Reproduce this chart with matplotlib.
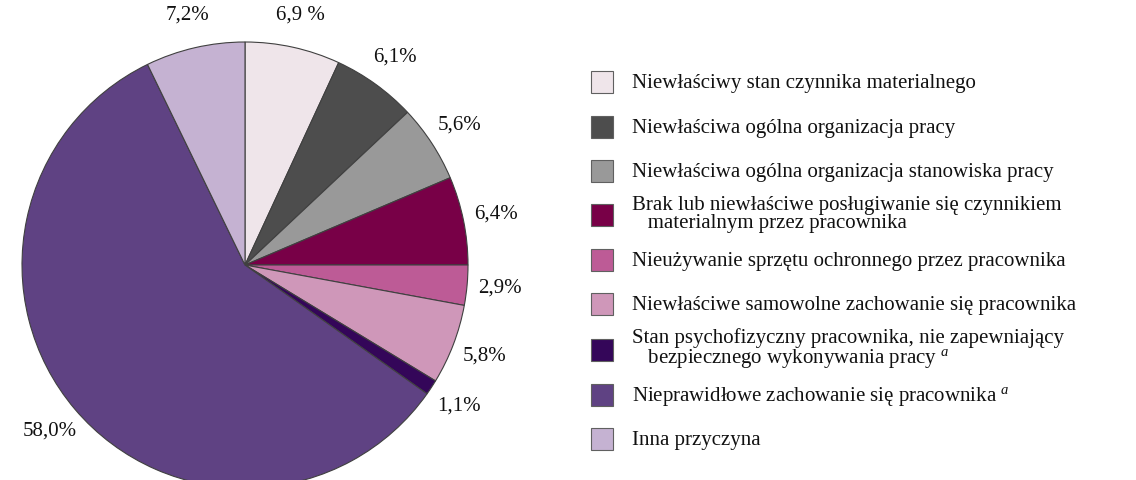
import matplotlib
matplotlib.use('Agg')
import matplotlib.pyplot as plt
from matplotlib.patches import Rectangle
from matplotlib.legend_handler import HandlerPatch

plt.rcParams['font.family'] = ['Liberation Serif', 'DejaVu Serif']
plt.rcParams['mathtext.fontset'] = 'custom'
plt.rcParams['mathtext.rm'] = 'Liberation Serif'
plt.rcParams['mathtext.it'] = 'Liberation Serif:italic'

# dane
categories = [
    'Niewłaściwy stan czynnika materialnego',
    'Niewłaściwa ogólna organizacja pracy',
    'Niewłaściwa ogólna organizacja stanowiska pracy',
    'Brak lub niewłaściwe posługiwanie się czynnikiem\n   materialnym przez pracownika',
    'Nieużywanie sprzętu ochronnego przez pracownika',
    'Niewłaściwe samowolne zachowanie się pracownika',
    'Stan psychofizyczny pracownika, nie zapewniający\n   bezpiecznego wykonywania pracy $^{\\mathit{a}}$',
    'Nieprawidłowe zachowanie się pracownika $^{\\mathit{a}}$',
    'Inna przyczyna',
]
values = [6.9, 6.1, 5.6, 6.4, 2.9, 5.8, 1.1, 58.0, 7.2]
value_labels = ['6,9 %', '6,1%', '5,6%', '6,4%', '2,9%', '5,8%', '1,1%', '58,0%', '7,2%']
colors = ['#efe5ea', '#4d4d4d', '#999999', '#780047', '#bd5b96',
          '#cf97b9', '#340659', '#5f4283', '#c5b2d2']

W, H = 1136, 480
fs = 15
fig = plt.figure(figsize=(W / 100, H / 100), dpi=100)
ax = fig.add_axes([0, 0, 1, 1])

wedges, texts = ax.pie(
    values,
    labels=value_labels,
    colors=colors,
    startangle=90,
    counterclock=False,
    center=(245, 215),
    radius=223,
    labeldistance=1.15,
    wedgeprops=dict(edgecolor='#404040', linewidth=0.8),
    textprops=dict(fontsize=fs, color='#111111'),
)
for t in texts:
    t.set_ha('center')
    t.set_va('center')

ax.set_xlim(0, W)
ax.set_ylim(0, H)
ax.set_aspect('equal')
ax.axis('off')

sq = 22 * 72 / 100  # bok kwadracika w pt


def square(legend, orig_handle, xdescent, ydescent, width, height, fontsize):
    return Rectangle((-xdescent + (width - sq) / 2, -ydescent + (height - sq) / 2), sq, sq)


handles = [Rectangle((0, 0), 1, 1, facecolor=c, edgecolor='#606060', linewidth=0.8)
           for c in colors]
leg = ax.legend(
    handles, categories,
    loc='upper left',
    bbox_to_anchor=(591 / W, (H - 62) / H),
    bbox_transform=fig.transFigure,
    frameon=False,
    fontsize=fs,
    handlelength=sq / fs,
    handleheight=2.6,
    handletextpad=0.9,
    labelspacing=0.195,
    borderpad=0,
    borderaxespad=0,
    handler_map={Rectangle: HandlerPatch(patch_func=square)},
)
for t in leg.get_texts():
    t.set_linespacing(0.95)
    t.set_color('#111111')

fig.savefig('out.png', dpi=100)
